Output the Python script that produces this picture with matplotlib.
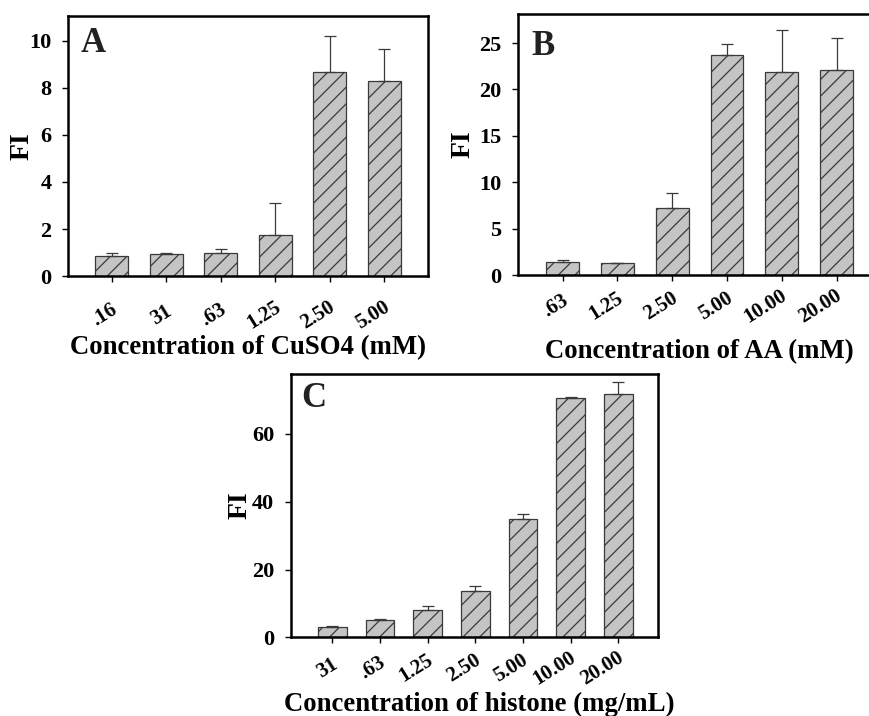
import numpy as np
import matplotlib
matplotlib.use('Agg')
import matplotlib.pyplot as plt
from matplotlib.transforms import ScaledTranslation

plt.rcParams['font.family'] = ['Liberation Serif', 'DejaVu Serif']
plt.rcParams['font.weight'] = 'bold'
plt.rcParams['hatch.linewidth'] = 0.9

# panel A - CuSO4
cu_labels = ['.16', '31', '.63', '1.25', '2.50', '5.00']
cu_fi = [0.86, 0.92, 1.0, 1.76, 8.67, 8.31]
cu_err = [0.10, 0.08, 0.15, 1.36, 1.54, 1.36]

# panel B - AA
aa_labels = ['.63', '1.25', '2.50', '5.00', '10.00', '20.00']
aa_fi = [1.37, 1.26, 7.23, 23.73, 21.9, 22.08]
aa_err = [0.21, 0.0, 1.58, 1.22, 4.5, 3.45]

# panel C - histone
hi_labels = ['31', '.63', '1.25', '2.50', '5.00', '10.00', '20.00']
hi_fi = [3.04, 5.1, 7.96, 13.66, 35.0, 70.5, 71.8]
hi_err = [0.15, 0.2, 1.37, 1.57, 1.3, 0.3, 3.4]


def panel(rect, labels, fi, err, ymax, yticks, xlims, xdrop, letter, letter_xy,
          xlabel, xlab_xy, ylab_x):
    ax = fig.add_axes(rect)
    x = np.arange(len(labels))
    ax.bar(x, fi, width=0.6, color='#c4c4c4', edgecolor='#3a3a3a',
           linewidth=0.9, hatch='//', zorder=2)
    ax.errorbar(x, fi, yerr=[np.zeros(len(err)), err], fmt='none',
                ecolor='#3a3a3a', elinewidth=0.9, capsize=4, capthick=0.9, zorder=3)
    ax.set_xlim(xlims)
    ax.set_ylim(0, ymax)
    ax.set_yticks(yticks)
    ax.set_yticklabels([str(t) for t in yticks], fontsize=16, fontweight='bold')
    ax.set_xticks(x)
    ax.set_xticklabels([])
    # rotated category labels, a little right of each tick like the original
    trans = ax.get_xaxis_transform() + ScaledTranslation(9 / 100, -xdrop / 100,
                                                         fig.dpi_scale_trans)
    for xi, lab in zip(x, labels):
        ax.text(xi, 0, lab, transform=trans, fontsize=15, fontweight='bold',
                rotation=32, ha='right', va='center', clip_on=False)
    ax.tick_params(axis='x', direction='out', length=4, width=1)
    ax.tick_params(axis='y', direction='out', length=4, width=1, pad=8)
    for s in ax.spines.values():
        s.set_linewidth(1.8)
    ax.set_ylabel('FI', fontsize=20, fontweight='bold')
    ax.yaxis.set_label_coords(ylab_x, 0.5)
    ax.set_xlabel(xlabel, fontsize=19.3, fontweight='bold')
    ax.xaxis.set_label_coords(*xlab_xy)
    ax.text(letter_xy[0], letter_xy[1], letter, transform=ax.transAxes, fontsize=25,
            fontweight='bold', color='#222222', va='top', ha='left')
    return ax


fig = plt.figure(figsize=(8.7, 7.16), dpi=100)

panel([0.0782, 0.6145, 0.4138, 0.3631], cu_labels, cu_fi, cu_err, 11.06,
      [0, 2, 4, 6, 8, 10], (-0.8, 5.8), 39, 'A', (0.036, 0.958),
      'Concentration of CuSO4 (mM)', (0.5, -0.227), -0.092)
panel([0.5954, 0.6159, 0.4172, 0.3641], aa_labels, aa_fi, aa_err, 28.1,
      [0, 5, 10, 15, 20, 25], (-0.816, 5.81), 31, 'B', (0.036, 0.94),
      'Concentration of AA (mM)', (0.5, -0.245), -0.118)
panel([0.3341, 0.1099, 0.4225, 0.3678], hi_labels, hi_fi, hi_err, 77.7,
      [0, 20, 40, 60], (-0.873, 6.84), 31, 'C', (0.029, 0.97),
      'Concentration of histone (mg/mL)', (0.512, -0.208), -0.105)

fig.savefig('out.png', dpi=100)
